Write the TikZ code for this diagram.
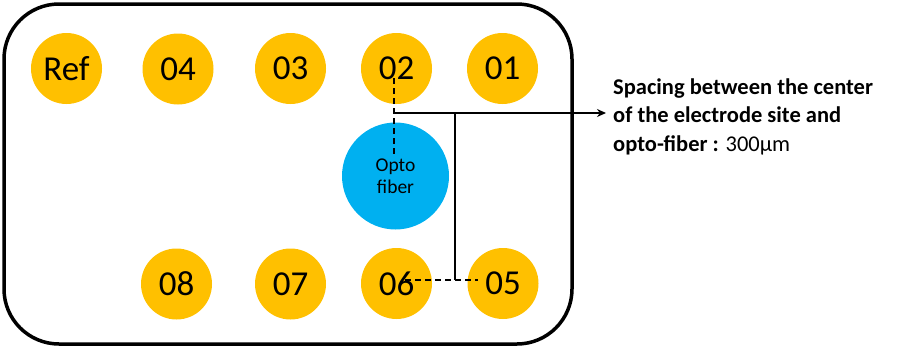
\documentclass[tikz,border=0pt]{standalone}
\usepackage{fontspec}
\setmainfont{Carlito}
\usetikzlibrary{arrows.meta}
\definecolor{elec}{HTML}{FFC000}
\definecolor{fib}{HTML}{00B0F0}
\begin{document}
\begin{tikzpicture}[x=1pt,y=-1pt,
  site/.style={circle,fill=elec,minimum size=71pt,inner sep=0pt,font=\fontsize{35}{40}\selectfont},
  fiberbox/.style={circle,fill=fib,minimum size=107pt,inner sep=0pt,align=center,font=\fontsize{19.5}{22}\selectfont},
  conn/.style={line width=1.5pt},
  dconn/.style={line width=1.5pt,dash pattern=on 6pt off 4pt},
  note/.style={anchor=west,align=left,inner sep=0pt,font=\fontsize{22.5}{28.5}\selectfont}]
\useasboundingbox (0,0) rectangle (911,348);
\draw[line width=3.5pt,rounded corners=55pt] (4,4) rectangle (572,344);
\node[site] (ref) at (66.5,68.5) {Ref};
\node[site] (s04) at (178,69) {04};
\node[site] (s03) at (290.5,68.5) {03};
\node[site] (s02) at (396.5,68.5) {02};
\node[site] (s01) at (502.5,68.5) {01};
\node[site] (s08) at (176.5,284) {08};
\node[site] (s07) at (290.5,284) {07};
\node[site] (s06) at (396.5,283.5) {06};
\node[site] (s05) at (503,283.5) {05};
\node[fiberbox] (fiber) at (395.5,176) {Opto\\fiber};
\node[note] (txt) at (613,116.5) {\textbf{Spacing between the center}\\\textbf{of the electrode site and}\\\textbf{opto-fiber :} 300µm};
\coordinate (dtop) at (394,78);
\coordinate (corner) at (394,113);
\coordinate (dbot) at (394,155);
\coordinate (vtop) at (455,113);
\coordinate (vbot) at (455,280);
\coordinate (h1) at (405,280);
\coordinate (h2) at (478,280);
\coordinate (tip) at (606,113);
\draw[dconn] (dtop) -- (dbot);
\draw[dconn] (h1) -- (h2);
\draw[conn] (vtop) -- (vbot);
\draw[conn,-{Stealth[length=9pt,width=8pt]}] (corner) -- (tip);
\end{tikzpicture}
\end{document}
